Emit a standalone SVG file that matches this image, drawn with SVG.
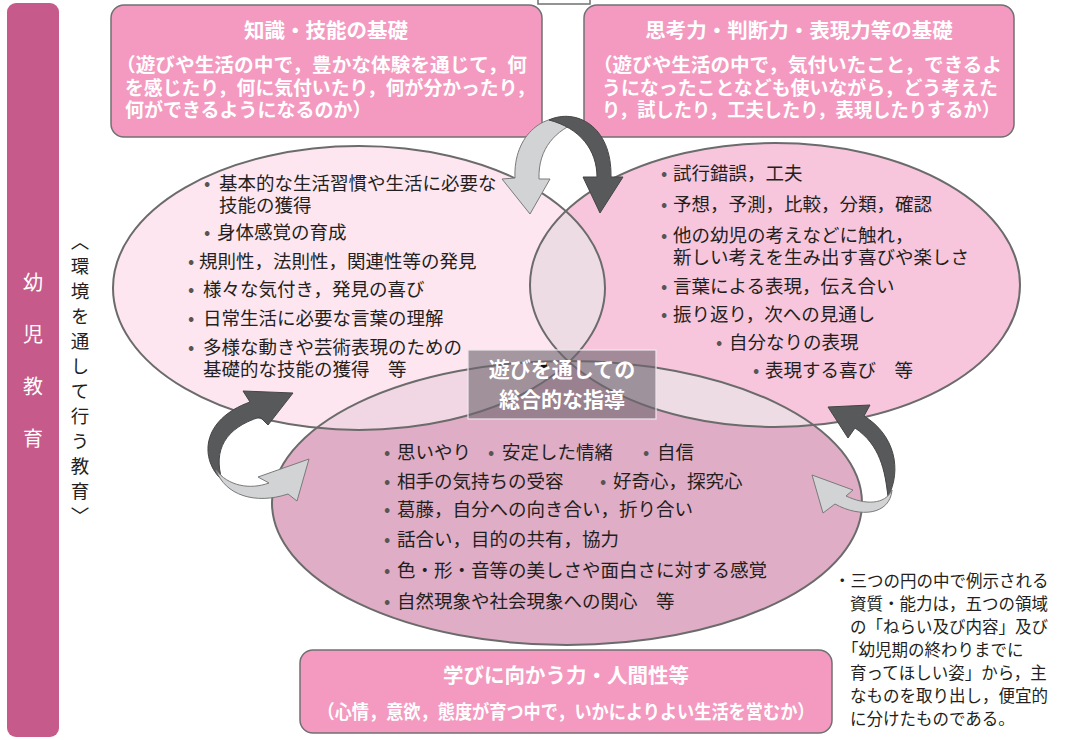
<svg xmlns="http://www.w3.org/2000/svg" width="1066" height="740" viewBox="0 0 1066 740">
<defs>
<style>
.jp{font-family:'Noto Sans CJK JP','Noto Sans CJK SC',sans-serif;}
.box{fill:#f49ac1;stroke:#707070;stroke-width:1.5;}
.wt{fill:#ffffff;font-weight:700;}
.title{font-size:20.5px;}
.sub{font-size:19px;}
.body{fill:#231f20;font-size:18.5px;}
.note{fill:#231f20;font-size:16.5px;}
.bu{fill:#555555;}
.ell{fill:none;stroke:#6b6b6b;stroke-width:2;}
.dark{fill:#58595b;stroke:#454545;stroke-width:1;}
.light{fill:#d1d3d4;stroke:#7a7a7a;stroke-width:1;}
</style>
<clipPath id="cL"><ellipse cx="359" cy="288" rx="246" ry="142"/></clipPath>
<clipPath id="cR"><ellipse cx="775" cy="285" rx="245" ry="142"/></clipPath>
</defs>
<rect width="1066" height="740" fill="#ffffff"/>

<g id="side-bar">
<rect x="7" y="3" width="52" height="734" rx="9" fill="#c65b8b"/>
<text class="jp" x="33" y="272" font-size="20" fill="#ffffff" writing-mode="vertical-rl" letter-spacing="32">幼児教育</text>
</g>
<g id="side-label">
<text class="jp" x="80" y="232" font-size="18.5" fill="#231f20" writing-mode="vertical-rl" letter-spacing="6.5">〈環境を通して行う教育〉</text>
</g>

<rect x="538" y="-2" width="52" height="6" fill="#ffffff" stroke="#707070" stroke-width="1.5"/>

<g id="box-knowledge">
<rect class="box" x="111" y="5" width="431" height="132" rx="13"/>
<text class="jp wt title" x="326" y="38" text-anchor="middle">知識・技能の基礎</text>
<text class="jp wt sub" x="116" y="72" textLength="411" lengthAdjust="spacingAndGlyphs">（遊びや生活の中で，豊かな体験を通じて，何</text>
<text class="jp wt sub" x="125" y="95" textLength="410" lengthAdjust="spacingAndGlyphs">を感じたり，何に気付いたり，何が分かったり，</text>
<text class="jp wt sub" x="125" y="117">何ができるようになるのか）</text>
</g>
<g id="box-thinking">
<rect class="box" x="584" y="5" width="430" height="132" rx="13"/>
<text class="jp wt title" x="799" y="38" text-anchor="middle">思考力・判断力・表現力等の基礎</text>
<text class="jp wt sub" x="593" y="72" textLength="409" lengthAdjust="spacingAndGlyphs">（遊びや生活の中で，気付いたこと，できるよ</text>
<text class="jp wt sub" x="602" y="95" textLength="396" lengthAdjust="spacingAndGlyphs">うになったことなども使いながら，どう考えた</text>
<text class="jp wt sub" x="602" y="117" textLength="398" lengthAdjust="spacingAndGlyphs">り，試したり，工夫したり，表現したりするか）</text>
</g>

<g id="circles">
<ellipse cx="359" cy="288" rx="246" ry="142" fill="#fde6f0"/>
<ellipse cx="775" cy="285" rx="245" ry="142" fill="#f7c6dc"/>
<ellipse cx="567" cy="503" rx="295" ry="142" fill="#dfadc5"/>
<ellipse cx="775" cy="285" rx="245" ry="142" fill="#eedce5" clip-path="url(#cL)"/>
<ellipse cx="567" cy="503" rx="295" ry="142" fill="#f1d7e3" clip-path="url(#cL)"/>
<ellipse cx="567" cy="503" rx="295" ry="142" fill="#eddce4" clip-path="url(#cR)"/>
<g clip-path="url(#cL)"><ellipse cx="567" cy="503" rx="295" ry="142" fill="#e8d5de" clip-path="url(#cR)"/></g>
<ellipse class="ell" cx="359" cy="288" rx="246" ry="142"/>
<ellipse class="ell" cx="775" cy="285" rx="245" ry="142"/>
<ellipse class="ell" cx="567" cy="503" rx="295" ry="142"/>
</g>

<g id="circle-left-text" class="jp body">
<text x="204" y="190"><tspan class="bu">•</tspan><tspan x="219">基本的な生活習慣や生活に必要な</tspan></text>
<text x="219" y="212">技能の獲得</text>
<text x="204" y="239"><tspan class="bu">•</tspan><tspan x="217">身体感覚の育成</tspan></text>
<text x="188" y="268"><tspan class="bu">•</tspan><tspan x="199">規則性，法則性，関連性等の発見</tspan></text>
<text x="188" y="296"><tspan class="bu">•</tspan><tspan x="203">様々な気付き，発見の喜び</tspan></text>
<text x="188" y="325"><tspan class="bu">•</tspan><tspan x="203">日常生活に必要な言葉の理解</tspan></text>
<text x="188" y="354"><tspan class="bu">•</tspan><tspan x="203">多様な動きや芸術表現のための</tspan></text>
<text x="203" y="376">基礎的な技能の獲得　等</text>
</g>

<g id="circle-right-text" class="jp body">
<text x="661" y="180"><tspan class="bu">•</tspan><tspan x="673">試行錯誤，工夫</tspan></text>
<text x="661" y="211"><tspan class="bu">•</tspan><tspan x="673">予想，予測，比較，分類，確認</tspan></text>
<text x="661" y="242"><tspan class="bu">•</tspan><tspan x="673">他の幼児の考えなどに触れ，</tspan></text>
<text x="673" y="264">新しい考えを生み出す喜びや楽しさ</text>
<text x="661" y="293"><tspan class="bu">•</tspan><tspan x="673">言葉による表現，伝え合い</tspan></text>
<text x="661" y="321"><tspan class="bu">•</tspan><tspan x="673">振り返り，次への見通し</tspan></text>
<text x="716" y="349"><tspan class="bu">•</tspan><tspan x="729">自分なりの表現</tspan></text>
<text x="753" y="377"><tspan class="bu">•</tspan><tspan x="765">表現する喜び　等</tspan></text>
</g>

<g id="circle-bottom-text" class="jp body">
<text x="384" y="459"><tspan class="bu">•</tspan><tspan x="397">思いやり</tspan></text>
<text x="488" y="459"><tspan class="bu">•</tspan><tspan x="502">安定した情緒</tspan></text>
<text x="643" y="459"><tspan class="bu">•</tspan><tspan x="657">自信</tspan></text>
<text x="384" y="488"><tspan class="bu">•</tspan><tspan x="397">相手の気持ちの受容</tspan></text>
<text x="600" y="488"><tspan class="bu">•</tspan><tspan x="613">好奇心，探究心</tspan></text>
<text x="384" y="516"><tspan class="bu">•</tspan><tspan x="397">葛藤，自分への向き合い，折り合い</tspan></text>
<text x="384" y="546"><tspan class="bu">•</tspan><tspan x="397">話合い，目的の共有，協力</tspan></text>
<text x="384" y="577"><tspan class="bu">•</tspan><tspan x="397">色・形・音等の美しさや面白さに対する感覚</tspan></text>
<text x="384" y="608"><tspan class="bu">•</tspan><tspan x="397">自然現象や社会現象への関心　等</tspan></text>
</g>

<g id="connectors">
<path class="light" d="M580,121 C545,108 513,135 515,178 L502,179 L530,214 L550,179 L539,179 C538,148 556,130 580,121 Z"/>
<path class="dark" d="M549,120 C575,108 612,125 611,177 L623,177 L600,213 L583,177 L597,177 C597,150 580,128 549,120 Z"/>
<path class="dark" d="M222,480 C200,460 200,420 250,402 L243,391 L293,393 L268,425 L260,417 C225,428 213,450 222,480 Z"/>
<path class="light" d="M216,470 C225,495 255,505 288,494 L297,501 L309,459 L258,477 L269,483 C250,490 228,486 216,470 Z"/>
<path class="dark" d="M888,497 C902,470 895,435 864,416 L870,405 L828,407 L848,438 L855,428 C880,445 885,470 888,497 Z"/>
<path class="light" d="M892,490 C890,515 860,518 835,504 L823,513 L812,475 L853,490 L846,496 C865,505 885,505 892,490 Z"/>
</g>

<g id="center-label">
<rect x="468" y="350" width="188" height="69" fill="#6e6670" fill-opacity="0.62" stroke="#eee6ec" stroke-width="1.2"/>
<circle cx="544" cy="365" r="3" fill="#111111"/>
<text class="jp wt" x="562" y="377" font-size="21" text-anchor="middle">遊びを通しての</text>
<text class="jp wt" x="562" y="407" font-size="21" text-anchor="middle">総合的な指導</text>
</g>

<g id="box-learning">
<rect class="box" x="300" y="650" width="532" height="83" rx="13"/>
<text class="jp wt title" x="566" y="683" text-anchor="middle">学びに向かう力・人間性等</text>
<text class="jp wt sub" x="566" y="719" text-anchor="middle" textLength="497" lengthAdjust="spacingAndGlyphs">（心情，意欲，態度が育つ中で，いかによりよい生活を営むか）</text>
</g>

<g id="note" class="jp note">
<text x="834" y="587">・三つの円の中で例示される</text>
<text x="850" y="610">資質・能力は，五つの領域</text>
<text x="850" y="633">の「ねらい及び内容」及び</text>
<text x="842" y="656">「幼児期の終わりまでに</text>
<text x="850" y="679">育ってほしい姿」から，主</text>
<text x="850" y="702">なものを取り出し，便宜的</text>
<text x="850" y="725">に分けたものである。</text>
</g>
</svg>
